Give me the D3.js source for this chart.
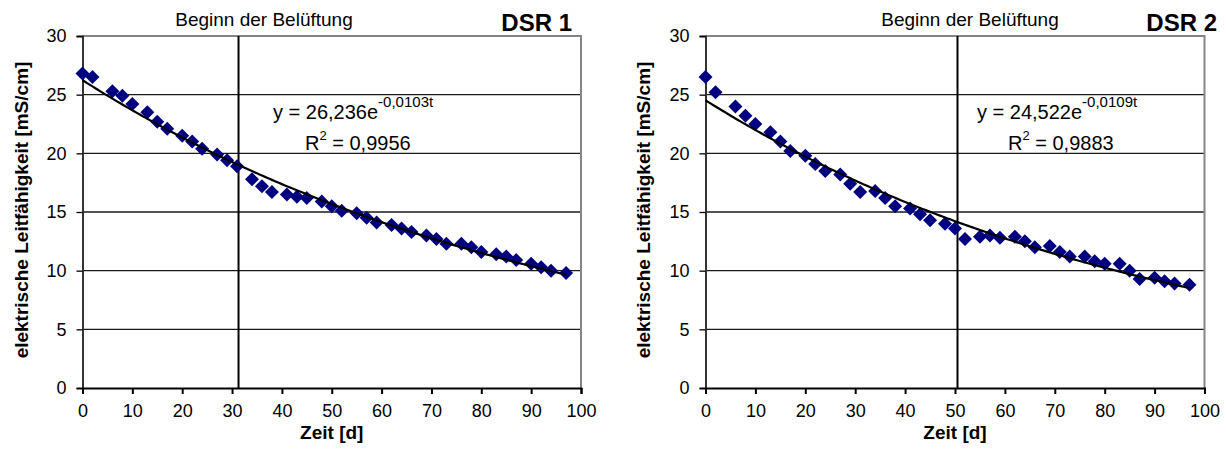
<!DOCTYPE html>
<html>
<head>
<meta charset="utf-8">
<script src="https://cdn.jsdelivr.net/npm/d3@7/dist/d3.min.js"></script>
<style>
  html, body { margin: 0; padding: 0; background: #fff; }
  svg { display: block; font-family: Arial, "Liberation Sans", sans-serif; }
</style>
</head>
<body>
<svg id="chart" width="1226" height="450"></svg>
<script>
// Sampling days (same schedule for both reactors)
const days = [0, 2, 6, 8, 10, 13, 15, 17, 20, 22, 24, 27, 29, 31, 34, 36, 38, 41, 43, 45, 48,
  50, 52, 55, 57, 59, 62, 64, 66, 69, 71, 73, 76, 78, 80, 83, 85, 87, 90, 92, 94, 97];

// Electrical conductivity [mS/cm], DSR 1
const conductivityDSR1 = [26.8, 26.5, 25.3, 24.9, 24.2, 23.5, 22.7, 22.1, 21.5, 21.0, 20.4,
  19.9, 19.4, 18.9, 17.8, 17.2, 16.7, 16.5, 16.3, 16.2, 15.9, 15.5, 15.1, 14.9, 14.5, 14.1,
  13.9, 13.6, 13.3, 13.0, 12.7, 12.3, 12.3, 12.0, 11.6, 11.4, 11.2, 10.9, 10.6, 10.3, 10.0, 9.8];

// Electrical conductivity [mS/cm], DSR 2
const conductivityDSR2 = [26.5, 25.2, 24.0, 23.2, 22.5, 21.8, 21.0, 20.2, 19.8, 19.1, 18.5,
  18.2, 17.4, 16.7, 16.8, 16.2, 15.5, 15.3, 14.8, 14.3, 14.0, 13.6, 12.7, 12.9, 13.0, 12.8,
  12.9, 12.5, 12.0, 12.1, 11.6, 11.2, 11.2, 10.8, 10.6, 10.6, 10.0, 9.3, 9.4, 9.1, 8.9, 8.8];

// Exponential trend fits y = a * e^(b t)
const trendDSR1 = { a: 26.236, b: -0.0103, r2: "0,9956" };
const trendDSR2 = { a: 24.522, b: -0.0109, r2: "0,9883" };

// Day on which aeration started
const aerationStart = [31.3, 50.5];

const panelTitles = ["DSR 1", "DSR 2"];
const xTicks = [0, 10, 20, 30, 40, 50, 60, 70, 80, 90, 100];
const yTicks = [0, 5, 10, 15, 20, 25, 30];

const fmtNum = v => String(v).replace(".", ",");

const svg = d3.select("#chart");

function drawPanel(opt) {
  const g = svg.append("g");
  const x = d3.scaleLinear().domain([0, 100]).range([opt.left, opt.right]);
  const y = d3.scaleLinear().domain([0, 30]).range([388, 36]);

  // horizontal gridlines
  g.selectAll("line.grid").data(yTicks.filter(v => v > 0 && v < 30)).join("line")
    .attr("x1", x(0)).attr("x2", x(100))
    .attr("y1", d => y(d)).attr("y2", d => y(d))
    .attr("stroke", "#1a1a1a").attr("stroke-width", 1.3);

  // plot frame: top and right in grey
  g.append("path")
    .attr("d", `M${x(0)},${y(30)}H${x(100)}V${y(0)}`)
    .attr("fill", "none").attr("stroke", "#858585").attr("stroke-width", 2);

  // aeration start marker
  g.append("line")
    .attr("x1", x(opt.aeration)).attr("x2", x(opt.aeration))
    .attr("y1", y(30)).attr("y2", y(0))
    .attr("stroke", "#000").attr("stroke-width", 2);

  // y axis
  const yAxis = g.append("g").attr("transform", `translate(${x(0)},0)`)
    .call(d3.axisLeft(y).tickValues(yTicks).tickSize(6).tickPadding(10));
  yAxis.select(".domain").attr("stroke", "#333").attr("stroke-width", 2);
  yAxis.selectAll(".tick line").attr("stroke", "#000").attr("stroke-width", 1.3);
  yAxis.selectAll("text").attr("font-size", 18).attr("fill", "#000")
    .attr("font-family", "Arial, 'Liberation Sans', sans-serif");

  // x axis
  const xAxis = g.append("g").attr("transform", `translate(0,${y(0)})`)
    .call(d3.axisBottom(x).tickValues(xTicks).tickSize(6).tickPadding(10));
  xAxis.select(".domain").attr("stroke", "#000").attr("stroke-width", 2);
  xAxis.selectAll(".tick line").attr("stroke", "#000").attr("stroke-width", 2);
  xAxis.selectAll("text").attr("font-size", 18).attr("fill", "#000")
    .attr("font-family", "Arial, 'Liberation Sans', sans-serif");

  // data markers (diamonds)
  const pts = days.map((d, i) => ({ t: d, v: opt.values[i] }));
  g.selectAll("path.pt").data(pts).join("path")
    .attr("d", "M0,-7L7,0L0,7L-7,0Z")
    .attr("transform", d => `translate(${x(d.t)},${y(d.v)})`)
    .attr("fill", "#000080");

  // exponential trend line over the sampled range
  const tEnd = d3.max(days);
  const trendPts = d3.range(0, tEnd + 0.01, 0.5).map(t => [t, opt.trend.a * Math.exp(opt.trend.b * t)]);
  g.append("path")
    .attr("d", d3.line().x(d => x(d[0])).y(d => y(d[1]))(trendPts))
    .attr("fill", "none").attr("stroke", "#000").attr("stroke-width", 2.2);

  // trend equation
  const eq = g.append("text").attr("x", opt.eqX).attr("y", 119).attr("font-size", 20);
  eq.append("tspan").text(`y = ${fmtNum(opt.trend.a.toFixed(3))}e`);
  eq.append("tspan").attr("font-size", 15).attr("dy", -12).text(`${fmtNum(opt.trend.b)}t`);

  const r2 = g.append("text").attr("x", opt.r2X).attr("y", 150).attr("font-size", 20);
  r2.append("tspan").text("R");
  r2.append("tspan").attr("font-size", 13).attr("dy", -10).text("2");
  r2.append("tspan").attr("dy", 10).text(` = ${opt.trend.r2}`);

  // annotations
  g.append("text").attr("x", opt.beginX).attr("y", 26).attr("text-anchor", "middle")
    .attr("font-size", 19).text("Beginn der Belüftung");
  g.append("text").attr("x", opt.titleRight).attr("y", 31).attr("text-anchor", "end")
    .attr("font-size", 24).attr("font-weight", "bold").text(opt.title);

  // axis titles
  g.append("text").attr("x", (opt.left + opt.right) / 2).attr("y", 439)
    .attr("text-anchor", "middle").attr("font-size", 19).attr("font-weight", "bold")
    .text("Zeit [d]");
  g.append("text")
    .attr("transform", `translate(${opt.yLabelX},210) rotate(-90)`)
    .attr("text-anchor", "middle").attr("font-size", 19).attr("font-weight", "bold")
    .text("elektrische Leitfähigkeit [mS/cm]");
}

drawPanel({
  left: 82.5, right: 581, values: conductivityDSR1, trend: trendDSR1,
  aeration: aerationStart[0], title: panelTitles[0],
  eqX: 273, r2X: 305, beginX: 264, titleRight: 572, yLabelX: 28
});

drawPanel({
  left: 705.5, right: 1204.5, values: conductivityDSR2, trend: trendDSR2,
  aeration: aerationStart[1], title: panelTitles[1],
  eqX: 977, r2X: 1008, beginX: 970, titleRight: 1217, yLabelX: 650
});
</script>
</body>
</html>
